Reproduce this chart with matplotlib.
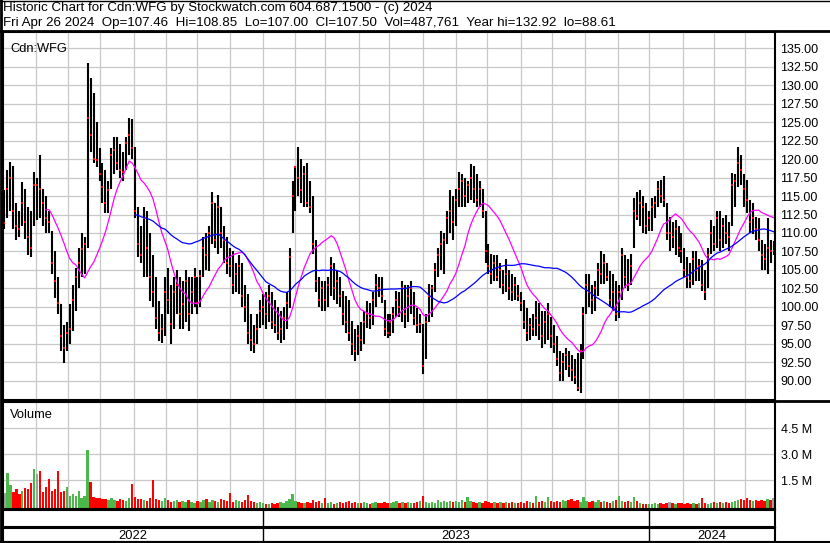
import numpy as np
import pandas as pd
import matplotlib
matplotlib.use("Agg")
import matplotlib.pyplot as plt
from matplotlib.lines import Line2D

plt.rcParams["font.family"] = ["Liberation Sans", "DejaVu Sans"]

# Cdn:WFG, one bar per two trading days, May 2022 - Apr 26 2024
start, end = "2022-05-02", "2024-04-26"

hi = [115.8, 118.5, 119.6, 119, 114, 113, 116.9, 116, 113.5, 113,
      118.2, 117.5, 120.5, 116, 115, 113, 110.3, 107.6, 104, 100.4,
      97.5, 98, 100.4, 103, 105.3, 108, 110, 109.5, 133, 131,
      129, 125, 121.5, 119.5, 118.5, 117, 121.5, 123, 123, 122,
      121, 123, 125.6, 125.4, 121.6, 113.5, 111, 113.5, 113, 110,
      107, 104, 100.8, 99, 104, 105.3, 103, 104, 105, 104,
      103.5, 105, 104, 104, 105.3, 104, 105, 109.4, 110, 111,
      115.5, 114, 115.2, 113.5, 111, 109.4, 108, 107.6, 106, 107,
      106, 103, 101.8, 99, 97.5, 99, 101, 101.8, 102, 102.9,
      102, 101, 100, 99.5, 100, 102, 108, 117, 119, 121.7,
      120, 119, 119.5, 117, 115, 109, 104, 103.5, 103.5, 104,
      106.7, 106, 105, 104, 102.2, 101.5, 101, 98.1, 97, 97.5,
      98, 99.5, 100.8, 100.5, 102, 104.5, 104, 104, 101, 99,
      99, 100, 102.2, 102, 103.5, 103, 103, 103.5, 102, 99.9,
      99, 97.7, 99, 103.1, 103, 106, 108, 110.3, 110, 113,
      115.8, 115, 116, 118.2, 118, 117.5, 117, 119.3, 119, 118,
      117, 116, 113, 108.5, 107.2, 107, 107, 106, 105, 106.5,
      105, 104.5, 104, 103, 102, 101, 99.9, 98.5, 99, 100.8,
      100.5, 99.5, 99.5, 100.5, 98.6, 97.5, 96, 94, 93.7, 94.5,
      94, 93.5, 93, 93.7, 95, 100, 104.5, 104.5, 103, 103.5,
      106, 107.6, 107.2, 106, 104.9, 104.5, 103.5, 103, 108, 107,
      106.5, 107.2, 114.8, 115.5, 115.8, 115, 114, 113, 114.8, 115,
      117, 117.2, 117.7, 114, 112.1, 111.5, 111.7, 111, 110, 108,
      106.7, 106, 107.6, 107.6, 106.5, 106.3, 105, 108, 111.7, 111,
      113, 113, 112, 112.5, 111.5, 118.1, 118, 121.7, 120.5, 118,
      117.2, 114.4, 114, 112.1, 112, 109, 108.5, 112, 109, 108.85]

lo = [110.6, 112, 113, 110.5, 109, 109.5, 111, 109.2, 107, 106.7,
      111, 111.7, 112, 111, 110, 110, 104.5, 101.2, 99, 94,
      92.4, 94, 95, 96.8, 99.5, 102.6, 104, 104.5, 108, 121,
      119.5, 118.9, 117, 114, 112.7, 112.7, 116, 118, 118.5, 117.5,
      117, 118.5, 120.5, 120, 112, 106.7, 106, 104, 104, 100.8,
      100, 97, 95.4, 95.1, 96, 99, 95, 97, 99, 97,
      97, 98, 96.8, 99, 100, 99, 100, 104, 105, 104.9,
      108.5, 108, 107.2, 108, 106, 104.5, 104, 101.8, 102, 101.8,
      100, 98, 95, 94, 93.8, 95, 97.2, 97.5, 97, 98,
      97, 96.4, 95.5, 95.1, 95.5, 97, 99.9, 110, 113, 115,
      114, 113.5, 113.5, 112.7, 107.2, 102, 100, 99.5, 99.5, 100,
      101.5, 101, 100.4, 100, 97.5, 96.5, 95.4, 93.5, 92.7, 93.5,
      94, 95, 97.2, 97, 97.5, 100, 101.3, 100.5, 96, 95.8,
      96, 96.5, 98.6, 98.6, 98, 97.2, 98, 99, 97.5, 96.5,
      96.5, 90.9, 93, 98, 98.6, 102, 104, 105, 104.5, 108.5,
      110, 109, 111, 113.5, 113.5, 113.5, 114, 114.5, 114, 113.5,
      113.5, 112, 106, 104.5, 103.1, 103.5, 103.5, 102.5, 101.8, 102,
      101, 100.8, 101, 100.8, 99.5, 97, 95.4, 95.5, 96, 96,
      95.5, 94.5, 95, 95.5, 94.5, 93.7, 92, 90, 90, 91.5,
      90.5, 90, 89.6, 88.6, 88.4, 93, 99, 100, 99, 99.5,
      101.5, 103.1, 103.1, 103.5, 100, 99.5, 98.1, 98.5, 101, 102.5,
      102.2, 103, 108, 111.7, 111, 110, 109.9, 110.3, 110.3, 112,
      113.5, 114, 113.5, 109, 107.6, 108, 107, 106.7, 106, 104,
      102.6, 102.6, 103, 103.5, 103.5, 102.2, 101, 102.5, 107.2, 107.5,
      108, 107.6, 108, 108.5, 107.6, 111, 113.5, 116.2, 116.5, 113.5,
      112.7, 110, 109.9, 109, 107.5, 105, 105, 104.5, 106, 107]

cl = [111.4, 116, 117.5, 113, 111, 110.5, 114, 111.5, 109.4, 108,
      116.5, 116.5, 116, 114, 112, 111.5, 106, 103.5, 100.5, 96,
      94.5, 96.5, 97, 101, 104, 106, 107.9, 108.5, 125.5, 123.2,
      120, 119.9, 118, 116.25, 114, 115.8, 120.5, 121.2, 119.5, 118.5,
      118.3, 122.2, 123.2, 121.5, 113, 108.5, 107, 112, 108, 104,
      102, 98.5, 96.5, 97, 102, 101, 97.7, 102, 103, 99,
      100.4, 103.5, 99, 102, 104, 100.5, 104.2, 108, 107, 110,
      114, 109, 113.5, 110, 109, 106, 105.5, 103, 104.5, 105.5,
      101.5, 100, 96.5, 95.5, 95, 97, 99.5, 100, 99, 101.5,
      98, 97.5, 96.5, 97, 98.5, 100.5, 106.8, 115, 118.9, 117.5,
      115.8, 118, 114, 113.5, 108.5, 103.5, 101, 102.5, 101, 103,
      105.5, 102.5, 103.5, 101.5, 99, 98, 96.5, 95, 94, 96,
      95.5, 98, 99, 98.5, 101, 103, 102.5, 101.5, 97, 96.5,
      98, 99, 101, 100, 102.5, 99, 101.5, 102.5, 98.5, 97.5,
      97.7, 92, 98, 101.5, 102.5, 105, 107, 108.5, 109, 112,
      113, 111.5, 114.5, 116, 117, 115, 116.5, 117.5, 116, 114.5,
      116, 113, 107.5, 105.5, 104.5, 106, 104, 105, 103, 104.5,
      102.5, 102, 103, 101.5, 100.5, 98, 96.5, 97.5, 97, 98.5,
      97.5, 96, 98, 99, 96, 95, 93, 91, 92.5, 93.5,
      92, 91.5, 90.5, 89, 94, 99, 103, 102, 101, 102.5,
      105, 104.5, 106, 104, 101, 102, 99, 102, 107, 104,
      103, 105.5, 113, 112.3, 114, 113.5, 111, 112, 113.5, 114,
      116, 115, 114.5, 110, 110, 109.5, 110.5, 108, 107.5, 105,
      104, 103.5, 106.5, 105, 105.5, 103, 102, 107, 110, 108.5,
      112, 109, 111, 110, 109.5, 116.5, 117, 119.5, 118.5, 116,
      114.5, 111.5, 112, 110.5, 109, 107, 106.5, 108, 107.5, 107.5]

# daily volume, millions of shares
vol = [0.77, 1.9, 1.2, 0.8, 1.0, 0.7, 0.9, 1.05, 1.0, 1.35,
       2.15, 1.85, 2.05, 0.8, 1.1, 1.58, 0.9, 1.0, 2.0, 0.8,
       0.9, 1.1, 0.6, 0.7, 0.6, 0.9, 0.5, 0.6, 3.25, 1.4,
       0.55, 0.45, 0.5, 0.4, 0.4, 0.35, 0.45, 0.35, 0.3, 0.4,
       0.35, 0.3, 0.45, 1.3, 0.55, 0.4, 0.4, 0.35, 0.3, 0.45,
       1.5, 0.4, 0.35, 0.3, 0.45, 0.35, 0.25, 0.3, 0.35, 0.25,
       0.3, 0.25, 0.35, 0.25, 0.2, 0.3, 0.25, 0.35, 0.4, 0.25,
       0.35, 0.3, 0.25, 0.4, 0.35, 0.3, 0.77, 0.25, 0.35, 0.3,
       0.25, 0.35, 0.65, 0.3, 0.25, 0.2, 0.25, 0.2, 0.15, 0.12,
       0.2, 0.15, 0.2, 0.25, 0.2, 0.3, 0.4, 0.7, 0.3, 0.25,
       0.2, 0.2, 0.25, 0.2, 0.35, 0.25, 0.3, 0.2, 0.45, 0.2,
       0.25, 0.15, 0.2, 0.25, 0.2, 0.25, 0.3, 0.2, 0.25, 0.2,
       0.2, 0.25, 0.2, 0.15, 0.2, 0.25, 0.2, 0.2, 0.25, 0.2,
       0.2, 0.25, 0.3, 0.2, 0.25, 0.2, 0.25, 0.2, 0.2, 0.25,
       0.3, 0.6, 0.25, 0.2, 0.25, 0.2, 0.35, 0.25, 0.3, 0.25,
       0.3, 0.25, 0.3, 0.25, 0.35, 0.25, 0.55, 0.3, 0.25, 0.2,
       0.25, 0.2, 0.3, 0.25, 0.2, 0.25, 0.2, 0.25, 0.2, 0.25,
       0.2, 0.25, 0.2, 0.2, 0.25, 0.2, 0.3, 0.25, 0.2, 0.6,
       0.25, 0.3, 0.25, 0.55, 0.3, 0.25, 0.3, 0.25, 0.35, 0.3,
       0.35, 0.4, 0.3, 0.35, 0.25, 0.55, 0.3, 0.25, 0.3, 0.25,
       0.35, 0.25, 0.3, 0.25, 0.2, 0.3, 0.35, 0.6, 0.3, 0.25,
       0.3, 0.25, 0.55, 0.3, 0.2, 0.15, 0.1, 0.1, 0.15, 0.2,
       0.15, 0.2, 0.15, 0.2, 0.25, 0.2, 0.15, 0.2, 0.2, 0.15,
       0.2, 0.15, 0.2, 0.15, 0.2, 0.45, 0.2, 0.15, 0.2, 0.25,
       0.2, 0.25, 0.2, 0.25, 0.2, 0.25, 0.3, 0.35, 0.4, 0.35,
       0.5, 0.35, 0.3, 0.35, 0.3, 0.35, 0.3, 0.4, 0.35, 0.49]

header1 = "Historic Chart for Cdn:WFG by Stockwatch.com 604.687.1500 - (c) 2024"
header2 = ("Fri Apr 26 2024  Op=107.46  Hi=108.85  Lo=107.00  Cl=107.50  "
           "Vol=487,761  Year hi=132.92  lo=88.61")

W, H = 830, 543
fig = plt.figure(figsize=(W / 100, H / 100), dpi=100)


def box(x0, y0, x1, y1):
    # axes from pixel box (top-left origin)
    return fig.add_axes([x0 / W, 1 - y1 / H, (x1 - x0) / W, (y1 - y0) / H])


def fline(xs, ys, lw=1.5):
    fig.add_artist(Line2D([v / W for v in xs], [1 - v / H for v in ys],
                          color="black", lw=lw))


days = pd.bdate_range(start, end)
x = np.arange(len(cl))
xlim = (-0.5, len(cl) - 0.5)
new_month = np.flatnonzero(np.r_[False, days.month[1:] != days.month[:-1]])
month_x = new_month / 2 - 0.5
year_x = [i / 2 - 0.5 for i in new_month if days[i].month == 1]

grid_kw = dict(color="#c8c8c8", lw=0.9)
tick_font = 9

# header
fig.text(3 / W, 1 - 8.5 / H, header1, fontsize=9.6, va="center")
fig.text(3 / W, 1 - 23 / H, header2, fontsize=9.6, va="center")

# price panel
ax = box(3, 32, 775, 400)
ax.set_xlim(*xlim)
ax.set_ylim(87.4, 137.2)
ax.set_xticks(month_x)
ax.set_yticks(np.arange(90, 135.1, 2.5))
ax.set_yticklabels([f"{v:.2f}" for v in np.arange(90, 135.1, 2.5)])
ax.yaxis.tick_right()
ax.tick_params(length=0, labelbottom=False, labelsize=tick_font, pad=4)
ax.grid(True, **grid_kw)
ax.set_axisbelow(True)
ax.vlines(x, lo, hi, color="black", lw=1.5)
ax.plot(x, cl, "s", color="red", ms=1.6, mew=0)
ax.plot(x, pd.Series(cl).rolling(15).mean(), color="#ff00ff", lw=0.9)
ax.plot(x, pd.Series(cl).rolling(45).mean(), color="#0000ff", lw=0.9)
ax.text(0.009, 0.97, "Cdn:WFG", transform=ax.transAxes, fontsize=9.3, va="top")

# volume panel
chg = np.diff(np.r_[cl[0], cl])
vcol = np.where(chg > 0, "#4cb84c", np.where(chg < 0, "#ff0000", "#a0a0a0"))
vax = box(3, 402, 775, 509)
vax.set_xlim(*xlim)
vax.set_ylim(-0.16, 6.0)
vax.set_xticks(month_x)
vax.set_yticks([1.5, 3.0, 4.5])
vax.set_yticklabels(["1.5 M", "3.0 M", "4.5 M"])
vax.yaxis.tick_right()
vax.tick_params(length=0, labelbottom=False, labelsize=tick_font, pad=4)
vax.grid(True, **grid_kw)
vax.set_axisbelow(True)
vax.bar(x, np.array(vol) + 0.16, bottom=-0.16, width=0.8, color=vcol, lw=0)
vax.text(0.009, 0.93, "Volume", transform=vax.transAxes, fontsize=9.3, va="top")

# date strips
bounds = [xlim[0]] + year_x + [xlim[1]]
for y0, y1, lab in [(510, 527, False), (528, 542, True)]:
    s = box(3, y0, 775, y1)
    s.set_xlim(*xlim)
    s.set_ylim(0, 1)
    s.set_xticks([])
    s.set_yticks([])
    for b in year_x:
        s.axvline(b, color="black", lw=1)
    if lab:
        for a, b, yr in zip(bounds[:-1], bounds[1:], ["2022", "2023", "2024"]):
            s.text((a + b) / 2, 0.45, yr, ha="center", va="center", fontsize=9.3)

for a in fig.axes:
    for sp in a.spines.values():
        sp.set_linewidth(1.5)

# frame lines
fline([0, W], [31, 31], lw=2)
fline([1, 1], [0, H], lw=2)
fline([0, W], [0.5, 0.5], lw=1)
fline([775, W], [401, 401], lw=2)
fline([0, W], [542, 542], lw=1.5)

fig.savefig("out.png", dpi=100)
